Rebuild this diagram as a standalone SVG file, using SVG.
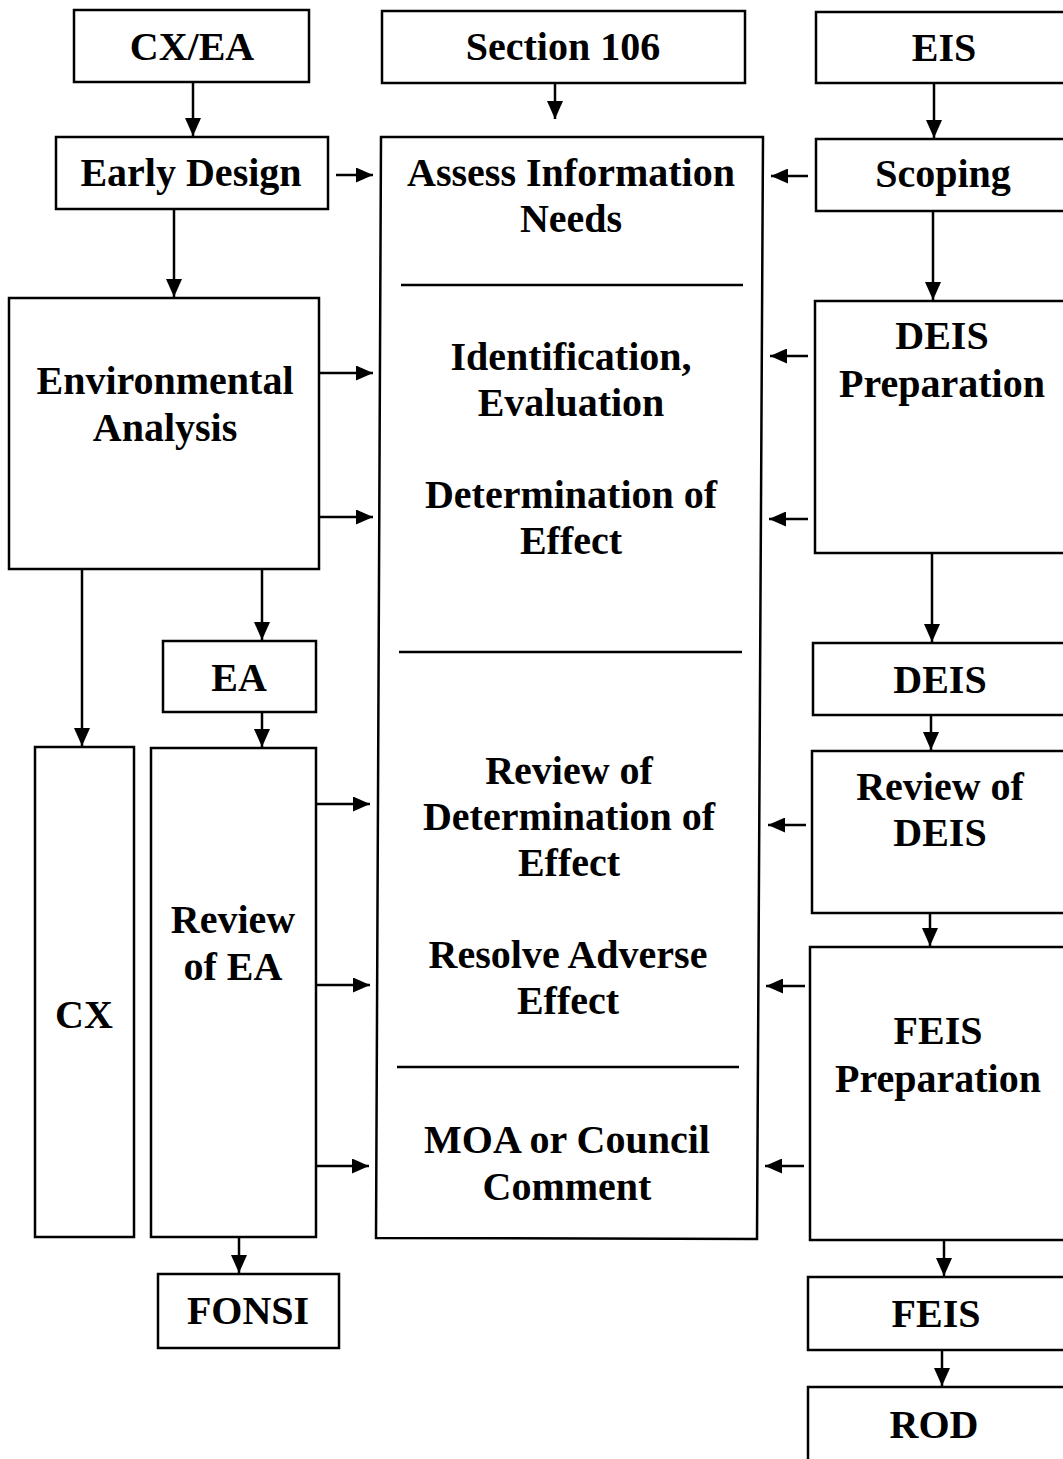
<svg xmlns="http://www.w3.org/2000/svg" width="1063" height="1459" viewBox="0 0 1063 1459">
<style>
.box{fill:#fff;stroke:#000;stroke-width:2.5}
.t{font-family:"Liberation Serif","Times New Roman",serif;font-weight:bold;font-size:40px;fill:#000;text-anchor:middle}
.c{stroke:#000;stroke-width:2.5;fill:none}
.sep{stroke:#000;stroke-width:2.5}
</style>
<defs>
<marker id="ah" markerUnits="userSpaceOnUse" markerWidth="18" markerHeight="16" refX="18" refY="8" orient="auto">
<path d="M0,0 L18,8 L0,16 Z" fill="#000"/>
</marker>
<marker id="as" markerUnits="userSpaceOnUse" markerWidth="17" markerHeight="15" refX="17" refY="7.5" orient="auto">
<path d="M0,0 L17,7.5 L0,15 Z" fill="#000"/>
</marker>
</defs>
<rect width="1063" height="1459" fill="#fff"/>

<g id="cxea"><rect class="box" x="74" y="10" width="235" height="72"/><text class="t" x="192" y="60">CX/EA</text></g>
<g id="sec106"><rect class="box" x="382" y="11" width="363" height="72"/><text class="t" x="563" y="60">Section 106</text></g>
<g id="eis"><rect class="box" x="816" y="12" width="260" height="71"/><text class="t" x="944" y="61">EIS</text></g>
<g id="early"><rect class="box" x="56" y="137" width="272" height="72"/><text class="t" x="191" y="186">Early Design</text></g>
<g id="scoping"><rect class="box" x="816" y="139" width="260" height="72"/><text class="t" x="943" y="187">Scoping</text></g>

<g id="main">
<path class="box" d="M381,137 L763,137 L757,1239 L376,1238 Z"/>
<line class="sep" x1="401" y1="285" x2="743" y2="285"/>
<line class="sep" x1="399" y1="652" x2="742" y2="652"/>
<line class="sep" x1="397" y1="1067" x2="739" y2="1067"/>
<text class="t" x="571" y="186">Assess Information</text>
<text class="t" x="571" y="232">Needs</text>
<text class="t" x="571" y="370">Identification,</text>
<text class="t" x="571" y="416">Evaluation</text>
<text class="t" x="571" y="508">Determination of</text>
<text class="t" x="571" y="554">Effect</text>
<text class="t" x="569" y="784">Review of</text>
<text class="t" x="569" y="830">Determination of</text>
<text class="t" x="569" y="876">Effect</text>
<text class="t" x="568" y="968">Resolve Adverse</text>
<text class="t" x="568" y="1014">Effect</text>
<text class="t" x="567" y="1153">MOA or Council</text>
<text class="t" x="567" y="1200">Comment</text>
</g>

<g id="envan"><rect class="box" x="9" y="298" width="310" height="271"/><text class="t" x="165" y="394">Environmental</text><text class="t" x="165" y="441">Analysis</text></g>
<g id="deisprep"><rect class="box" x="815" y="301" width="260" height="252"/><text class="t" x="942" y="349">DEIS</text><text class="t" x="942" y="397">Preparation</text></g>
<g id="ea"><rect class="box" x="163" y="641" width="153" height="71"/><text class="t" x="239" y="691">EA</text></g>
<g id="deis"><rect class="box" x="813" y="643" width="262" height="72"/><text class="t" x="940" y="693">DEIS</text></g>
<g id="cx"><rect class="box" x="35" y="747" width="99" height="490"/><text class="t" x="84" y="1028">CX</text></g>
<g id="reviewea"><rect class="box" x="151" y="748" width="165" height="489"/><text class="t" x="233" y="933">Review</text><text class="t" x="233" y="980">of EA</text></g>
<g id="reviewdeis"><rect class="box" x="812" y="751" width="263" height="162"/><text class="t" x="940" y="800">Review of</text><text class="t" x="940" y="846">DEIS</text></g>
<g id="feisprep"><rect class="box" x="810" y="947" width="265" height="293"/><text class="t" x="938" y="1044">FEIS</text><text class="t" x="938" y="1092">Preparation</text></g>
<g id="fonsi"><rect class="box" x="158" y="1274" width="181" height="74"/><text class="t" x="248" y="1324">FONSI</text></g>
<g id="feis"><rect class="box" x="808" y="1277" width="267" height="73"/><text class="t" x="936" y="1327">FEIS</text></g>
<g id="rod"><rect class="box" x="808" y="1387" width="267" height="80"/><text class="t" x="934" y="1438">ROD</text></g>

<g id="connectors">
<line class="c" x1="193" y1="82" x2="193" y2="136" marker-end="url(#ah)"/>
<line class="c" x1="555" y1="83" x2="555" y2="119" marker-end="url(#ah)"/>
<line class="c" x1="934" y1="83" x2="934" y2="138" marker-end="url(#ah)"/>
<line class="c" x1="174" y1="209" x2="174" y2="297" marker-end="url(#ah)"/>
<line class="c" x1="933" y1="211" x2="933" y2="300" marker-end="url(#ah)"/>
<line class="c" x1="336" y1="175" x2="373" y2="175" marker-end="url(#as)"/>
<line class="c" x1="808" y1="176" x2="771" y2="176" marker-end="url(#as)"/>
<line class="c" x1="319" y1="373" x2="373" y2="373" marker-end="url(#as)"/>
<line class="c" x1="319" y1="517" x2="373" y2="517" marker-end="url(#as)"/>
<line class="c" x1="808" y1="356" x2="770" y2="356" marker-end="url(#as)"/>
<line class="c" x1="808" y1="519" x2="769" y2="519" marker-end="url(#as)"/>
<line class="c" x1="932" y1="553" x2="932" y2="642" marker-end="url(#ah)"/>
<line class="c" x1="82" y1="569" x2="82" y2="746" marker-end="url(#ah)"/>
<line class="c" x1="262" y1="569" x2="262" y2="640" marker-end="url(#ah)"/>
<line class="c" x1="262" y1="712" x2="262" y2="747" marker-end="url(#ah)"/>
<line class="c" x1="931" y1="715" x2="931" y2="750" marker-end="url(#ah)"/>
<line class="c" x1="316" y1="804" x2="370" y2="804" marker-end="url(#as)"/>
<line class="c" x1="316" y1="985" x2="370" y2="985" marker-end="url(#as)"/>
<line class="c" x1="316" y1="1166" x2="369" y2="1166" marker-end="url(#as)"/>
<line class="c" x1="806" y1="825" x2="768" y2="825" marker-end="url(#as)"/>
<line class="c" x1="805" y1="986" x2="766" y2="986" marker-end="url(#as)"/>
<line class="c" x1="804" y1="1166" x2="765" y2="1166" marker-end="url(#as)"/>
<line class="c" x1="930" y1="913" x2="930" y2="946" marker-end="url(#ah)"/>
<line class="c" x1="239" y1="1237" x2="239" y2="1273" marker-end="url(#ah)"/>
<line class="c" x1="944" y1="1240" x2="944" y2="1276" marker-end="url(#ah)"/>
<line class="c" x1="942" y1="1350" x2="942" y2="1386" marker-end="url(#ah)"/>
</g>
</svg>
